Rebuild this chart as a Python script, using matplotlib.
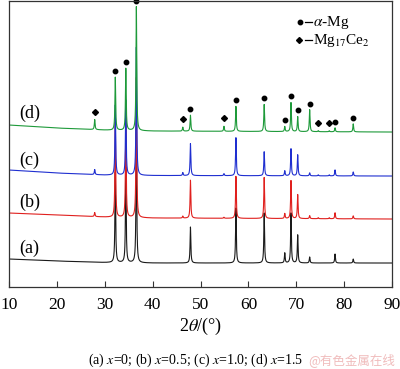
import numpy as np
import matplotlib
matplotlib.use("Agg")
import matplotlib.pyplot as plt

plt.rcParams['font.family'] = ['Liberation Serif', 'DejaVu Serif']
plt.rcParams['mathtext.fontset'] = 'stix'

# peak positions (2theta, deg)
peak_pos = [27.9, 32.2, 34.4, 36.6, 46.3, 47.9, 54.9, 57.4, 63.3, 67.6,
            68.9, 70.3, 72.8, 74.6, 76.9, 78.1, 81.9]

# peak heights above background, one list per sample
heights_a = [0, 90, 95, 135, 0, 36, 0, 55, 50, 10, 50, 28, 6, 0, 0, 9, 4]
heights_b = [4, 95, 100, 140, 2, 38, 1, 42, 41, 5, 38, 24, 3, 1, 1, 6, 3]
heights_c = [5, 70, 75, 128, 3, 32, 2, 38, 24, 5, 27, 21, 3, 1, 1, 6, 4]
heights_d = [10, 53, 62, 124, 4, 16, 5, 25, 27, 5, 29, 15, 22, 1, 1, 4, 8]

# background knots (2theta, intensity)
bg_x = [10, 20, 30, 40, 90]
bg_a = [28, 26, 24.5, 24, 24]
bg_b = [74, 72, 70, 69, 68]
bg_c = [117, 114, 112, 111.5, 111]
bg_d = [162, 159, 157, 156, 155]

alpha_mg = [32.2, 34.4, 36.6, 47.9, 57.4, 63.3, 67.6, 68.9, 70.3, 72.8, 78.1, 81.9]
mg17ce2 = [27.9, 46.3, 54.9, 74.6, 76.9]

labels = ['(a)', '(b)', '(c)', '(d)']
label_y = [39, 85, 127, 174]
colors = ['#1a1a1a', '#e0201e', '#1f2fd0', '#1e9a3a']

two_theta = np.arange(10, 90.001, 0.02)


def pattern(bg, heights, width=0.09):
    y = np.interp(two_theta, bg_x, bg)
    for p, h in zip(peak_pos, heights):
        y = y + h / (1 + ((two_theta - p) / width) ** 2)
    return y


fig = plt.figure(figsize=(4.0, 3.69), dpi=100)
ax = fig.add_axes([0.0225, 0.2222, 0.9575, 0.775])

patterns = []
for bg, hs, c in zip([bg_a, bg_b, bg_c, bg_d],
                     [heights_a, heights_b, heights_c, heights_d], colors):
    y = pattern(bg, hs)
    patterns.append(y)
    ax.plot(two_theta, y, color=c, linewidth=0.8)

# phase markers above the top pattern
top = patterns[-1]
for p in alpha_mg:
    i = np.argmin(np.abs(two_theta - p))
    ax.plot(p, top[i] + 6, 'o', color='black', markersize=3.2, clip_on=False)
for p in mg17ce2:
    i = np.argmin(np.abs(two_theta - p))
    ax.plot(p, top[i] + 8, 'D', color='black', markersize=3.0)

for lab, ly in zip(labels, label_y):
    ax.text(12.1, ly, lab, fontsize=13, ha='left', va='center')

# legend
ax.plot(70.7, 265, 'o', color='black', markersize=3.2)
ax.plot([71.9, 73.3], [265, 265], color='black', linewidth=0.9)
ax.text(73.4, 265, r'$\alpha$-Mg', fontsize=11, va='center', ha='left')
ax.plot(70.5, 247, 'D', color='black', markersize=3.0)
ax.plot([71.9, 73.3], [247, 247], color='black', linewidth=0.9)
ax.text(73.4, 247, r'Mg$_{17}$Ce$_2$', fontsize=11, va='center', ha='left')

ax.set_xlim(10, 90)
ax.set_ylim(0, 286)
ax.set_xticks(np.arange(10, 91, 10))
ax.set_yticks([])
ax.tick_params(axis='x', direction='in', length=4, labelsize=12.5, pad=7, color='#333333')
ax.set_xlabel(r'2$\theta$/(°)', fontsize=13, labelpad=2)
for s in ax.spines.values():
    s.set_color('#333333')
    s.set_linewidth(0.9)

fig.text(0.488, 0.024, '(a) $x$=0; (b) $x$=0.5; (c) $x$=1.0; (d) $x$=1.5',
         fontsize=10, ha='center', va='center')
fig.text(0.988, 0.024, '@有色金属在线', fontsize=9, ha='right', va='center',
         color='#f0bcbc', family=['Noto Sans CJK SC', 'DejaVu Sans'])

fig.savefig('out.png', dpi=100, facecolor='white')
